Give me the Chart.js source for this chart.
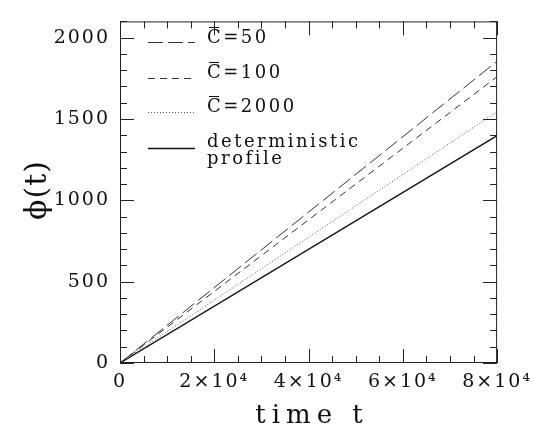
<!DOCTYPE html>
<html>
<head>
<meta charset="utf-8">
<script src="https://cdn.jsdelivr.net/npm/chart.js@4/dist/chart.umd.min.js"></script>
<style>
  body { margin: 0; background: #fff; }
  canvas { display: block; }
</style>
</head>
<body>
<canvas id="myChart" width="535" height="436"></canvas>
<script>
// time t and phi(t) for each run (lines are straight from the origin)
var times = [0, 80000];
var phiC50 = [0, 1855];
var phiC100 = [0, 1760];
var phiC2000 = [0, 1545];
var phiDet = [0, 1398];

var xTicks = [0, 20000, 40000, 60000, 80000];
var xTickLabels = ["0", "2\u00d710\u2074", "4\u00d710\u2074", "6\u00d710\u2074", "8\u00d710\u2074"];
var yTicks = [0, 500, 1000, 1500, 2000];
// the C gets a bar drawn over it
var legendLabels = ["C=50", "C=100", "C=2000", "deterministic", "profile"];

var serif = "'DejaVu Serif', serif";

function pts(ys) {
  return times.map(function (t, i) { return { x: t, y: ys[i] }; });
}

var styles = [
  { dash: [15, 5], width: 1, color: "#333" },
  { dash: [7, 5], width: 1, color: "#333" },
  { dash: [1, 2], width: 1, color: "#555" },
  { dash: [], width: 1.4, color: "#111" },
];

var data = {
  datasets: [
    { label: legendLabels[0], data: pts(phiC50) },
    { label: legendLabels[1], data: pts(phiC100) },
    { label: legendLabels[2], data: pts(phiC2000) },
    { label: legendLabels[3], data: pts(phiDet) },
  ].map(function (d, i) {
    d.borderColor = styles[i].color;
    d.borderWidth = styles[i].width;
    d.borderDash = styles[i].dash;
    d.pointRadius = 0;
    d.fill = false;
    return d;
  }),
};

// frame, inward ticks on all sides, legend and axis titles
var framePlugin = {
  id: "frame",
  beforeDraw: function (chart) {
    chart.ctx.letterSpacing = "2px";
  },
  afterDraw: function (chart) {
    var ctx = chart.ctx;
    var a = chart.chartArea;
    var xs = chart.scales.x, ys = chart.scales.y;
    ctx.save();
    ctx.strokeStyle = "#222";
    ctx.lineWidth = 1;
    ctx.setLineDash([]);
    ctx.strokeRect(a.left + 0.5, a.top + 0.5, a.right - a.left - 1, a.bottom - a.top - 1);

    ctx.beginPath();
    for (var t = 0; t <= 80000; t += 5000) {
      var px = Math.round(xs.getPixelForValue(t)) + 0.5;
      var len = t % 20000 === 0 ? 14 : 7;
      ctx.moveTo(px, a.bottom); ctx.lineTo(px, a.bottom - len);
      ctx.moveTo(px, a.top); ctx.lineTo(px, a.top + len);
    }
    for (var v = 0; v <= 2100; v += 100) {
      var py = Math.round(ys.getPixelForValue(v)) + 0.5;
      var l2 = v % 500 === 0 ? 14 : 7;
      ctx.moveTo(a.left, py); ctx.lineTo(a.left + l2, py);
      ctx.moveTo(a.right, py); ctx.lineTo(a.right - l2, py);
    }
    ctx.stroke();

    // legend
    var rows = [42, 78, 112, 148];
    var textY = [38, 73, 107, 142];
    chart.data.datasets.forEach(function (d, i) {
      ctx.beginPath();
      ctx.strokeStyle = d.borderColor;
      ctx.lineWidth = d.borderWidth;
      ctx.setLineDash(d.borderDash);
      ctx.moveTo(148, rows[i] + 0.5);
      ctx.lineTo(195, rows[i] + 0.5);
      ctx.stroke();
    });
    ctx.setLineDash([]);
    ctx.fillStyle = "#111";
    ctx.strokeStyle = "#111";
    ctx.font = "18px " + serif;
    ctx.letterSpacing = "2.5px";
    ctx.textAlign = "left";
    ctx.textBaseline = "middle";
    for (var i = 0; i < 4; i++) ctx.fillText(legendLabels[i], 207, textY[i]);
    ctx.fillText(legendLabels[4], 207, 159);
    // bars over C
    ctx.lineWidth = 1.2;
    ctx.beginPath();
    for (var j = 0; j < 3; j++) {
      ctx.moveTo(209, textY[j] - 10.5);
      ctx.lineTo(219, textY[j] - 10.5);
    }
    ctx.stroke();

    // axis titles
    ctx.font = "26px " + serif;
    ctx.letterSpacing = "6px";
    ctx.textAlign = "center";
    ctx.fillText("time t", 312, 416);
    ctx.save();
    ctx.translate(38, 190);
    ctx.rotate(-Math.PI / 2);
    ctx.font = "30px " + serif;
    ctx.letterSpacing = "1px";
    ctx.fillText("\u03d5(t)", 0, 0);
    ctx.restore();
    ctx.restore();
  },
};

var options = {
  responsive: false,
  animation: false,
  layout: { padding: { top: 9, right: 37, left: 0, bottom: 0 } },
  plugins: { legend: { display: false }, tooltip: { enabled: false } },
  scales: {
    x: {
      type: "linear",
      min: 0,
      max: 80000,
      grid: { display: false, drawTicks: false },
      border: { display: false },
      afterBuildTicks: function (s) { s.ticks = xTicks.map(function (v) { return { value: v }; }); },
      afterFit: function (s) { s.height = 73; },
      ticks: {
        padding: 8,
        maxRotation: 0,
        color: "#111",
        font: { family: serif, size: 19 },
        callback: function (v) { return xTickLabels[xTicks.indexOf(v)]; },
      },
    },
    y: {
      type: "linear",
      min: 0,
      max: 2100,
      grid: { display: false, drawTicks: false },
      border: { display: false },
      afterBuildTicks: function (s) { s.ticks = yTicks.map(function (v) { return { value: v }; }); },
      afterFit: function (s) { s.width = 120; },
      ticks: {
        padding: 10,
        color: "#111",
        font: { family: serif, size: 19 },
        callback: function (v) { return String(v); },
      },
    },
  },
};

var ctx = document.getElementById("myChart").getContext("2d");
var myChart = new Chart(ctx, {
  type: "line",
  data: data,
  options: options,
  plugins: [framePlugin],
});
</script>
</body>
</html>
